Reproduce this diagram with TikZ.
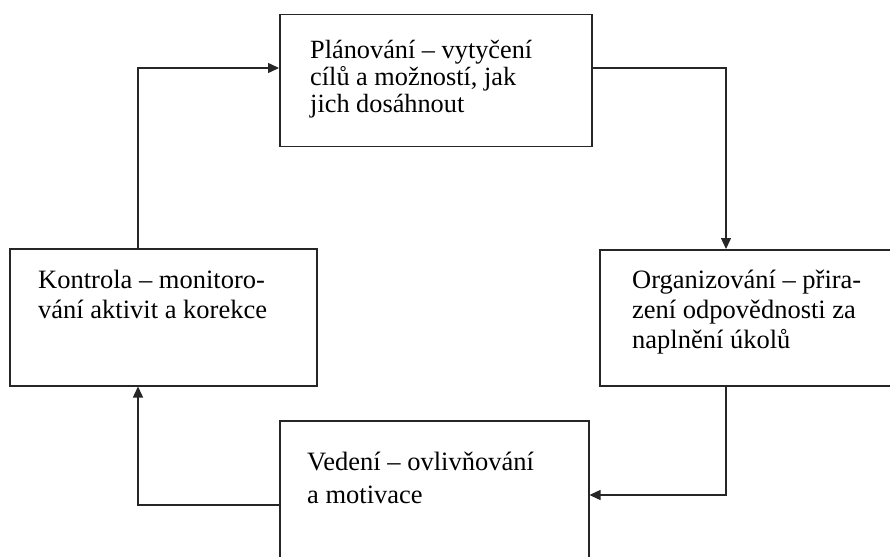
\documentclass[tikz,border=0pt]{standalone}
\usepackage{fontspec}
\setmainfont{Liberation Serif}
\usetikzlibrary{arrows.meta}
\begin{document}
\begin{tikzpicture}[x=1pt,y=-1pt,
  box/.style={draw=black!85, line width=1.5pt, rectangle, anchor=north west, inner sep=0pt},
  txt/.style={anchor=base west, inner sep=0pt},
  arr/.style={draw=black!85, line width=1.4pt, -{Triangle[length=11pt,width=10pt]}}]
\useasboundingbox (0,0) rectangle (890,556);
\clip (0,0) rectangle (890,556);
% boxes
\node[box, minimum width=312, minimum height=132] (plan) at (279,14) {};
\node[box, minimum width=307, minimum height=137] (kon) at (9,248) {};
\node[box, minimum width=310, minimum height=136] (org) at (599,249) {};
\node[box, minimum width=309, minimum height=160] (ved) at (279,420) {};
% texts
\node[txt] (plant) at (310,59) {\parbox[t]{280pt}{\fontsize{26.3}{26.8}\selectfont Plánování – vytyčení\\cílů a možností, jak\\jich dosáhnout}};
\node[txt] (kont) at (38,288) {\parbox[t]{280pt}{\fontsize{26.5}{30.5}\selectfont Kontrola – monitoro-\\vání aktivit a korekce}};
\node[txt] (orgt) at (632,288) {\parbox[t]{280pt}{\fontsize{26.5}{30}\selectfont Organizování – přira-\\zení odpovědnosti za\\naplnění úkolů}};
\node[txt] (vedt) at (307,470) {\parbox[t]{280pt}{\fontsize{26.5}{33}\selectfont Vedení – ovlivňování\\a motivace}};
% connector bends
\coordinate (cL) at (138,68);
\coordinate (cR) at (726,68);
\coordinate (cR2) at (726,495);
\coordinate (cL2) at (138,505);
\draw[arr] (kon.north -| cL) |- (plan.west |- cL);
\draw[arr] (plan.east |- cR) -| (org.north -| cR);
\draw[arr] (org.south -| cR2) |- (ved.east |- cR2);
\draw[arr] (ved.west |- cL2) -| (kon.south -| cL2);
\end{tikzpicture}
\end{document}
